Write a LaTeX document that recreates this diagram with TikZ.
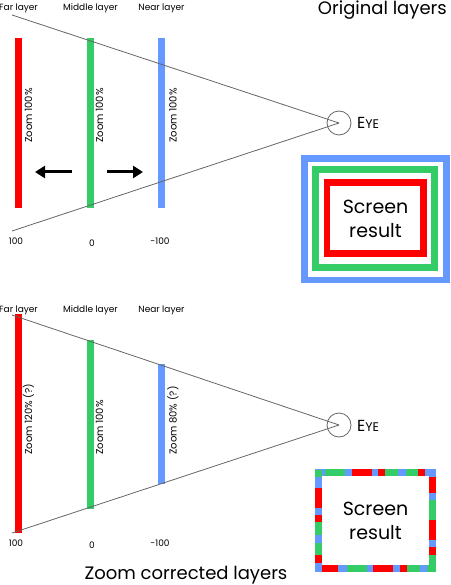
\documentclass[tikz,border=0pt]{standalone}
\usepackage{fontspec}
\setmainfont{Poppins}
\usetikzlibrary{arrows.meta}
\definecolor{lred}{HTML}{FF0000}
\definecolor{lgreen}{HTML}{33CC66}
\definecolor{lblue}{HTML}{6699FF}
\definecolor{sight}{HTML}{666666}
\newcommand{\eyetext}{{\fontsize{16}{16}\selectfont E}{\fontsize{12.5}{12.5}\selectfont YE}}
\begin{document}
\begin{tikzpicture}[x=1pt,y=-1pt,
  lbl/.style={font=\fontsize{9}{10}\selectfont, inner sep=0, anchor=base},
  zoomlbl/.style={font=\fontsize{10}{11}\selectfont, inner sep=0, rotate=90, anchor=west},
  title/.style={font=\fontsize{18}{20}\selectfont, inner sep=0},
  sightline/.style={draw=sight, line width=0.8pt},
  eyecirc/.style={circle, draw=sight, line width=0.8pt, minimum size=24pt, inner sep=0},
  eyelbl/.style={inner sep=0, anchor=base west},
  mover/.style={line width=3pt, -{Triangle[length=10pt,width=12pt]}},
  screentext/.style={font=\fontsize{19}{24}\selectfont, align=center, inner sep=0}
]
\useasboundingbox (0,0) rectangle (450,585);

% ================= TOP: original layers =================
\node[title, anchor=base east] (titleA) at (447,15) {Original layers};
\node[lbl] (farA) at (18.5,10.5) {Far layer};
\node[lbl] (midA) at (90.5,10.5) {Middle layer};
\node[lbl] (nearA) at (161.5,10.5) {Near layer};

\fill[lred] (15,38) rectangle (22,208);
\fill[lgreen] (87,38) rectangle (94,208);
\fill[lblue] (158,38) rectangle (165,208);

\node[zoomlbl] (zfarA) at (28.5,143) {Zoom 100\%};
\node[zoomlbl] (zmidA) at (99.5,143) {Zoom 100\%};
\node[zoomlbl] (znearA) at (173,143) {Zoom 100\%};

\node[eyecirc] (eyeA) at (339,123) {};
\node[eyelbl] (eyeAlbl) at (357,129) {\eyetext};
\coordinate (topA) at (12,15);
\coordinate (botA) at (12,231);
\draw[sightline] (topA) -- (eyeA.center);
\draw[sightline] (botA) -- (eyeA.center);

\coordinate (arLs) at (72,172);
\coordinate (arLe) at (35,172);
\coordinate (arRs) at (107,172);
\coordinate (arRe) at (143,172);
\draw[mover] (arLs) -- (arLe);
\draw[mover] (arRs) -- (arRe);

\node[lbl] (dfarA) at (16,244) {100};
\node[lbl] (dmidA) at (92,246) {0};
\node[lbl] (dnearA) at (160,244) {-100};

\draw[lblue, line width=6.7pt] (304.3,158.3) rectangle (446.5,280);
\draw[lgreen, line width=7pt] (315,169.5) rectangle (434.5,267.5);
\draw[lred, line width=6.5pt] (327.2,182.5) rectangle (423.3,253.3);
\node[screentext] (scrA) at (375.5,219) {Screen\\result};

% ================= BOTTOM: zoom corrected layers =================
\node[lbl] (farB) at (18.5,312) {Far layer};
\node[lbl] (midB) at (90.5,312) {Middle layer};
\node[lbl] (nearB) at (161.5,312) {Near layer};

\fill[lred] (15,314) rectangle (22,533);
\fill[lgreen] (87,340) rectangle (94,509);
\fill[lblue] (158,364) rectangle (165,484);

\node[zoomlbl] (zfarB) at (28.5,455) {Zoom 120\% (?)};
\node[zoomlbl] (zmidB) at (99.5,455) {Zoom 100\%};
\node[zoomlbl] (znearB) at (173,455) {Zoom 80\% (?)};

\node[eyecirc] (eyeB) at (339,425) {};
\node[eyelbl] (eyeBlbl) at (357,431) {\eyetext};
\coordinate (topB) at (12,315);
\coordinate (botB) at (12,533);
\draw[sightline] (topB) -- (eyeB.center);
\draw[sightline] (botB) -- (eyeB.center);

\node[lbl] (dfarB) at (16,546) {100};
\node[lbl] (dmidB) at (92,548) {0};
\node[lbl] (dnearB) at (160,546) {-100};

\fill[white] (315,469) rectangle (436,572);
% top edge
\foreach \a/\b/\c in {315/325/lblue,325/345/lgreen,345/352/lblue,352/372/lred,372/378/lblue,378/385/lred,385/398/lgreen,398/406/lblue,406/418/lgreen,418/425/lred,425/432/lblue,432/436/lgreen}
  \draw[\c, line width=7pt] (\a,472.5) -- (\b,472.5);
% bottom edge
\foreach \a/\b/\c in {315/320/lblue,320/338/lred,338/347/lblue,347/367/lgreen,367/373/lblue,373/393/lred,393/400/lblue,400/407/lred,407/420/lgreen,420/427/lblue,427/436/lgreen}
  \draw[\c, line width=7pt] (\a,568.5) -- (\b,568.5);
% left edge
\foreach \a/\b/\c in {470/477/lgreen,477/488/lblue,488/508/lred,508/515/lblue,515/522/lred,522/535/lgreen,535/543/lblue,543/555/lgreen,555/563/lred,563/572/lblue}
  \draw[\c, line width=7pt] (318.5,\a) -- (318.5,\b);
% right edge
\foreach \a/\b/\c in {469/477/lblue,477/493/lred,493/500/lblue,500/520/lgreen,520/540/lred,540/547/lblue,547/555/lred,555/572/lgreen}
  \draw[\c, line width=7pt] (432.5,\a) -- (432.5,\b);
\node[screentext] (scrB) at (375.5,521) {Screen\\result};

\node[title, anchor=base] (titleB) at (186,579) {Zoom corrected layers};
\end{tikzpicture}
\end{document}
